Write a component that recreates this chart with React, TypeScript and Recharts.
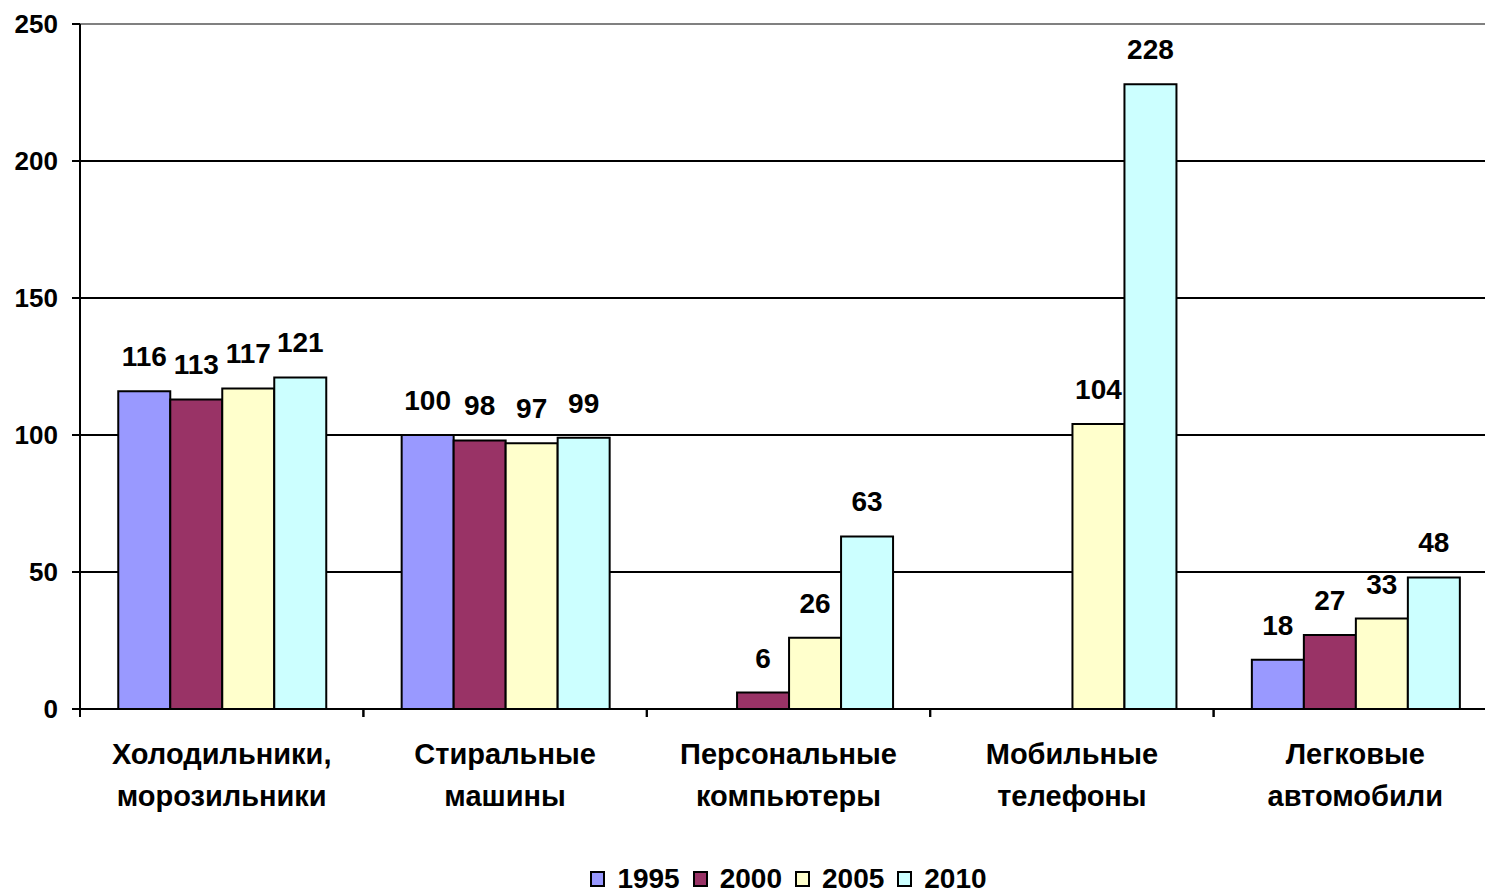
import React from 'react';
import { BarChart, Bar, XAxis, YAxis, CartesianGrid, Legend, LabelList, ReferenceLine } from 'recharts';

// Household appliances per 100 households, by year
const categories = [
  'Холодильники, морозильники',
  'Стиральные машины',
  'Персональные компьютеры',
  'Мобильные телефоны',
  'Легковые автомобили',
];
const years = ['1995', '2000', '2005', '2010'];
const v1995 = [116, 100, null, null, 18];
const v2000 = [113, 98, 6, null, 27];
const v2005 = [117, 97, 26, 104, 33];
const v2010 = [121, 99, 63, 228, 48];
const yTicks = [0, 50, 100, 150, 200, 250];

const colors = ['#9999FF', '#993366', '#FFFFCC', '#CCFFFF'];
const series = [v1995, v2000, v2005, v2010];

const data = categories.map((name, i) => {
  const row: Record<string, string | number | null> = { name };
  years.forEach((y, k) => {
    row[y] = series[k][i];
  });
  return row;
});

const FONT = '"Liberation Sans", Arial, sans-serif';

function CategoryTick(props: any) {
  const { x, y, payload } = props;
  const half = payload && payload.offset ? payload.offset : 141.7;
  const words = String(payload.value).split(' ');
  return (
    <g>
      <line x1={x - half} x2={x - half} y1={y - 8} y2={y} stroke="#000" strokeWidth={2} />
      <line x1={x + half} x2={x + half} y1={y - 8} y2={y} stroke="#000" strokeWidth={2} />
      {words.map((w, i) => (
        <text key={i} x={x} y={y + 47 + i * 42} textAnchor="middle" fontFamily={FONT} fontWeight="bold" fontSize={29} fill="#000">
          {w}
        </text>
      ))}
    </g>
  );
}

function ValueLabel(props: any) {
  const { x, y, width, value } = props;
  if (value == null) return null;
  return (
    <text x={x + width / 2} y={y - 25} textAnchor="middle" fontFamily={FONT} fontWeight="bold" fontSize={28} fill="#000">
      {value}
    </text>
  );
}

function LegendBox(props: any) {
  const items = props.payload || [];
  return (
    <div style={{ display: 'flex', justifyContent: 'center', alignItems: 'center', height: 32, lineHeight: '32px', fontFamily: FONT, fontWeight: 'bold', fontSize: 28, color: '#000' }}>
      {items.map((it: any, i: number) => (
        <div key={i} style={{ display: 'flex', alignItems: 'center', marginRight: i < items.length - 1 ? 13 : 0 }}>
          <span style={{ display: 'inline-block', width: 11, height: 12, border: '2px solid #000', background: it.color, marginRight: 12 }} />
          <span>{it.value}</span>
        </div>
      ))}
    </div>
  );
}

export default function App() {
  return (
    <div style={{ position: 'absolute', left: 0, top: 0, width: 1485, height: 896, overflow: 'hidden', background: '#fff' }}>
      <BarChart
        width={1500}
        height={896}
        data={data}
        margin={{ top: 24, right: 3, left: 0, bottom: 0 }}
        barCategoryGap="13.5%"
        barGap={0}
      >
        <CartesianGrid vertical={false} stroke="#000" strokeWidth={2} />
        <ReferenceLine y={250} stroke="#808080" strokeWidth={2} />
        <XAxis
          dataKey="name"
          height={155}
          axisLine={{ stroke: '#000', strokeWidth: 2 }}
          tickLine={false}
          tickSize={8}
          tickMargin={0}
          interval={0}
          tick={<CategoryTick />}
        />
        <YAxis
          width={80}
          domain={[0, 250]}
          ticks={yTicks}
          axisLine={{ stroke: '#000', strokeWidth: 2 }}
          tickLine={{ stroke: '#000', strokeWidth: 2 }}
          tickSize={8}
          tickMargin={14}
          tick={{ fontFamily: FONT, fontWeight: 'bold', fontSize: 26, fill: '#000' }}
        />
        <Legend content={<LegendBox />} wrapperStyle={{ top: 863, left: 80, width: 1417, height: 32 }} />
        {years.map((y, k) => (
          <Bar key={y} dataKey={y} name={y} fill={colors[k]} stroke="#000" strokeWidth={2} isAnimationActive={false}>
            <LabelList dataKey={y} content={<ValueLabel />} />
          </Bar>
        ))}
      </BarChart>
    </div>
  );
}
